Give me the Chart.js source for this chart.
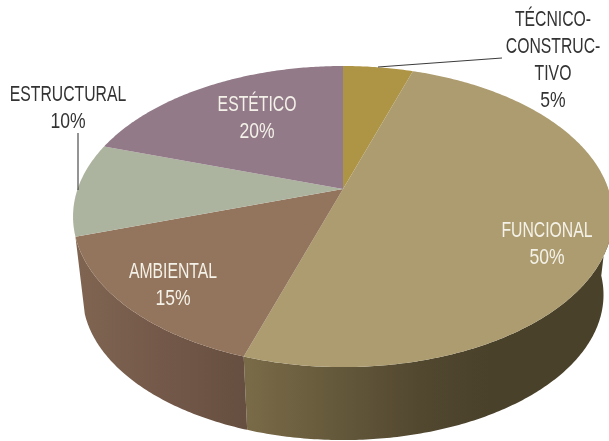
<!DOCTYPE html>
<html>
<head>
<meta charset="utf-8">
<style>html,body{margin:0;padding:0;background:#fff;overflow:hidden}canvas{display:block}</style>
<script src="https://cdn.jsdelivr.net/npm/chart.js@4"></script>
</head>
<body>
<canvas id="c" width="609" height="441"></canvas>
<script>
const categories = ['TÉCNICO-CONSTRUCTIVO', 'FUNCIONAL', 'AMBIENTAL', 'ESTRUCTURAL', 'ESTÉTICO'];
const labelLines = [['TÉCNICO-', 'CONSTRUC-', 'TIVO'], ['FUNCIONAL'], ['AMBIENTAL'], ['ESTRUCTURAL'], ['ESTÉTICO']];
const shares = [5, 50, 15, 10, 20];
const topColors = ['#ae9445', '#ac9c6f', '#93745c', '#acb39e', '#927a89'];

// layout of the tilted pie (perspective projection of the unit circle)
const view = {cx: 343, cy: 189, A: 265.4, B: 145.5, p: -0.183, shrink: 0.965, depth: 79.2};
const labelAt = [
  {x: 553, y: 20, fill: '#333333'},
  {x: 547, y: 231, fill: '#f4f1e8'},
  {x: 173, y: 272, fill: '#f4f1e8'},
  {x: 68, y: 95, fill: '#333333'},
  {x: 257, y: 105, fill: '#f4f1e8'}
];
const leaders = [[[378, 67], [502, 58]], null, null, [[78, 133], [78, 190]], null];
const sideStops = [
  null,
  [[245, '#7a6b48'], [330, '#665a3c'], [420, '#524830'], [490, '#4a412b'], [610, '#4a412b']],
  [[76, '#7f6551'], [160, '#74594a'], [245, '#664f40']],
  null,
  null
];
const LINE = 26.8;

function rim(a, lower) {
  const u = Math.cos(a), v = Math.sin(a), w = 1 + view.p * v;
  let x = view.cx + view.A * u / w, y = view.cy + view.B * v / w;
  if (lower) {
    x = view.cx + (x - view.cx) * view.shrink;
    y = view.cy + (y - view.cy) * view.shrink + view.depth;
  }
  return [x, y];
}
function samples(a0, a1) {
  const n = Math.max(2, Math.ceil((a1 - a0) * 90)), out = [];
  for (let i = 0; i <= n; i++) out.push(a0 + (a1 - a0) * i / n);
  return out;
}

const pie3d = {
  id: 'pie3d',
  beforeDatasetsDraw(chart) {
    const ctx = chart.ctx, arcs = chart.getDatasetMeta(0).data;
    // side walls first
    arcs.forEach((arc, i) => {
      if (!sideStops[i]) return;
      const as = samples(arc.startAngle, arc.endAngle).filter(a => Math.sin(a) > 0.05);
      const stops = sideStops[i];
      const x0 = stops[0][0], x1 = stops[stops.length - 1][0];
      const g = ctx.createLinearGradient(x0, 0, x1, 0);
      stops.forEach(s => g.addColorStop((s[0] - x0) / (x1 - x0), s[1]));
      ctx.beginPath();
      as.forEach((a, k) => { const p = rim(a, false); k ? ctx.lineTo(p[0], p[1]) : ctx.moveTo(p[0], p[1]); });
      as.slice().reverse().forEach(a => { const p = rim(a, true); ctx.lineTo(p[0], p[1]); });
      ctx.closePath();
      ctx.fillStyle = g;
      ctx.fill();
    });
    // top face
    arcs.forEach((arc, i) => {
      ctx.beginPath();
      ctx.moveTo(view.cx, view.cy);
      samples(arc.startAngle, arc.endAngle).forEach(a => { const p = rim(a, false); ctx.lineTo(p[0], p[1]); });
      ctx.closePath();
      ctx.fillStyle = arc.options.backgroundColor;
      ctx.fill();
    });
    // leader lines
    ctx.strokeStyle = '#3c3c3c';
    ctx.lineWidth = 1.1;
    leaders.forEach(l => {
      if (!l) return;
      ctx.beginPath();
      ctx.moveTo(l[0][0], l[0][1]);
      ctx.lineTo(l[1][0], l[1][1]);
      ctx.stroke();
    });
    // labels
    ctx.font = '22.5px "Liberation Sans", sans-serif';
    ctx.textAlign = 'center';
    ctx.textBaseline = 'middle';
    labelLines.forEach((lines, i) => {
      const pos = labelAt[i];
      ctx.fillStyle = pos.fill;
      lines.concat([shares[i] + '%']).forEach((t, k) => {
        ctx.save();
        ctx.translate(pos.x, pos.y + k * LINE);
        ctx.scale(k === lines.length ? 0.78 : 0.70, 1);
        ctx.fillText(t, 0, 0);
        ctx.restore();
      });
    });
    return false;
  }
};

new Chart(document.getElementById('c'), {
  type: 'pie',
  data: {labels: categories, datasets: [{data: shares, backgroundColor: topColors, borderWidth: 0}]},
  options: {
    responsive: false,
    animation: false,
    layout: {padding: 0},
    plugins: {legend: {display: false}, tooltip: {enabled: false}}
  },
  plugins: [pie3d]
});
</script>
</body>
</html>
